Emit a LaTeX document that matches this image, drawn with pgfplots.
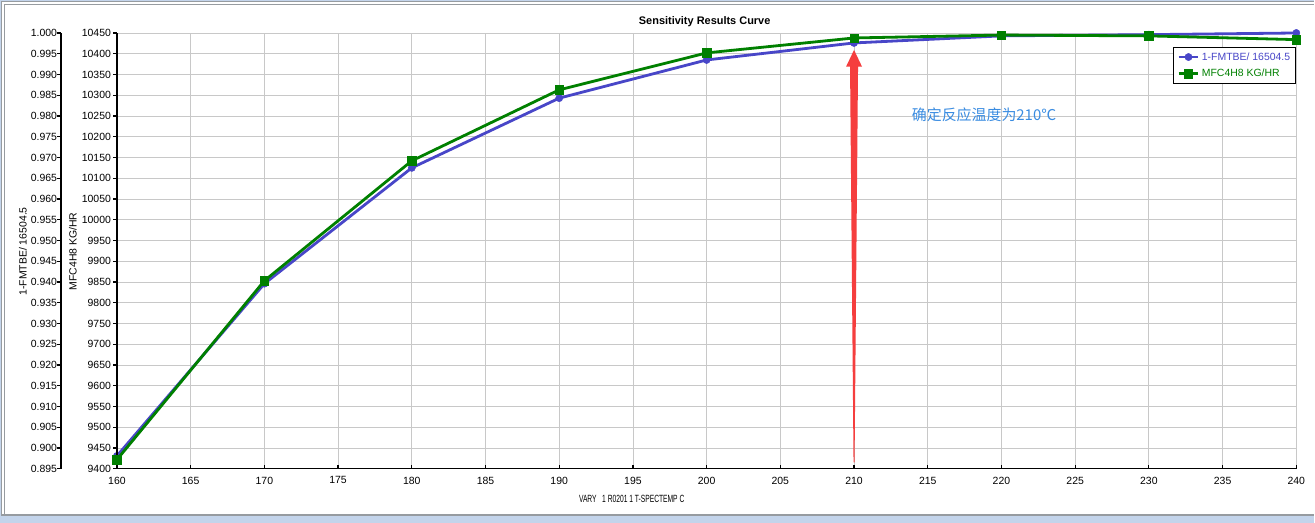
\documentclass[border=0pt]{standalone}
\usepackage{fontspec}
\setmainfont{Liberation Sans}
\newfontfamily\cjk{Noto Sans CJK SC}
\usepackage{graphicx}
\usepackage{pgfplots}
\pgfplotsset{compat=1.18}
\definecolor{fmblue}{RGB}{72,70,200}
\definecolor{fmgreen}{RGB}{0,128,0}
\definecolor{gridc}{RGB}{200,200,200}
\definecolor{arrowred}{RGB}{245,62,62}
\definecolor{txtblue}{RGB}{58,140,225}
\definecolor{framegray}{RGB}{150,155,160}
\definecolor{frameblue}{RGB}{195,212,235}
\pgfplotsset{
  common/.style={
    at={(117bp,54bp)}, anchor=south west, scale only axis,
    width=1180bp, height=436bp, xmin=160, xmax=240, clip=false,
    axis line style={-, black, line width=1.4bp},
    tick align=outside, major tick length=3.5bp,
    tick style={black, line width=1.2bp},
    ticklabel style={font=\fontsize{10.5}{12}\selectfont, text=black},
    /pgf/number format/assume math mode=true,
    scaled y ticks=false, scaled x ticks=false,
  }
}
\begin{document}
\begin{tikzpicture}[x=1bp,y=1bp]
\fill[frameblue] (0bp,0bp) rectangle (1315bp,523bp);
\fill[white] (1bp,7bp) rectangle (1315bp,522bp);
\draw[framegray,line width=0.8bp] (1.7bp,7.7bp) -- (1.7bp,521.3bp) -- (1315bp,521.3bp);
\draw[framegray,line width=0.8bp] (4.7bp,7.7bp) -- (4.7bp,518.3bp) -- (1315bp,518.3bp);
\draw[framegray,line width=1.2bp] (1bp,7.7bp) -- (1315bp,7.7bp);

\begin{axis}[common,
  ymin=0.895, ymax=1.000,
  xtick={160,165,...,240},
  ytick={0.895,0.900,0.905,0.910,0.915,0.920,0.925,0.930,0.935,0.940,0.945,0.950,0.955,0.960,0.965,0.970,0.975,0.980,0.985,0.990,0.995,1.000},
  grid=major, grid style={gridc, line width=0.8bp},
  axis x line*=bottom, axis y line*=left, axis y line shift=56bp,
  xtick style={yshift=3.5bp},
  xticklabel style={yshift=-1bp},
  yticklabel style={xshift=3bp, /pgf/number format/.cd, fixed, fixed zerofill, precision=3},
]
\fill[arrowred] (axis cs:209.966,0.89652) -- (axis cs:209.729,0.99188) -- (axis cs:209.458,0.99188) -- (axis cs:210,0.99591) -- (axis cs:210.542,0.99188) -- (axis cs:210.271,0.99188) -- (axis cs:210.034,0.89652) -- cycle;
\addplot[fmblue, line width=2.8bp, mark=*, mark size=3.6bp, mark options={solid, fill=fmblue, draw=fmblue, line width=0.5bp}]
  coordinates {(160,0.8981)(170,0.9396)(180,0.9675)(190,0.9843)(200,0.9935)(210,0.9976)(220,0.9993)(230,0.9996)(240,1.0000)};
\end{axis}

\begin{axis}[common,
  ymin=9400, ymax=10450,
  ytick={9400,9450,...,10450},
  hide x axis, axis y line*=left,
  yticklabel style={xshift=1bp, /pgf/number format/.cd, fixed, precision=0, 1000 sep={}},
  legend style={at={(rel axis cs:1,0.968)}, anchor=north east, draw=black, line width=1.2bp, fill=white,
    font=\fontsize{10.5}{12}\selectfont, inner xsep=3.5bp, inner ysep=3bp, row sep=3.5bp},
  legend cell align=left,
  legend image code/.code={\draw[mark repeat=2,mark phase=2,#1] plot coordinates {(0bp,0bp) (10bp,0bp) (20bp,0bp)};},
]
\addlegendimage{fmblue, line width=2.8bp, mark=*, mark size=3.6bp, mark options={solid, fill=fmblue, draw=fmblue, line width=0.5bp}}
\addlegendentry{\textcolor{fmblue}{1-FMTBE/ 16504.5}}
\addplot[fmgreen, line width=2.8bp, mark=square*, mark size=4.2bp, mark options={solid, fill=fmgreen, draw=fmgreen, line width=0.5bp}]
  coordinates {(160,9422)(170,9853)(180,10142)(190,10313)(200,10402)(210,10438)(220,10445)(230,10443)(240,10434)};
\addlegendentry{\textcolor{fmgreen}{MFC4H8 KG/HR}}
\end{axis}

\node[font=\bfseries\fontsize{11}{13}\selectfont] at (705bp,501bp) {Sensitivity Results Curve};
\node[rotate=90, font=\fontsize{10.5}{12}\selectfont] at (23bp,271.5bp) {1-FMTBE/ 16504.5};
\node[rotate=90, font=\fontsize{10.5}{12}\selectfont] at (73bp,271.5bp) {MFC4H8 KG/HR};
\node[font=\fontsize{10.5}{12}\selectfont] at (632bp,24bp) {\scalebox{0.64}[1]{VARY\ \ \ 1 R0201 1 T-SPECTEMP C}};
\node[txtblue, font=\cjk\fontsize{15}{18}\selectfont] at (984.5bp,408bp) {确定反应温度为210℃};
\end{tikzpicture}
\end{document}
